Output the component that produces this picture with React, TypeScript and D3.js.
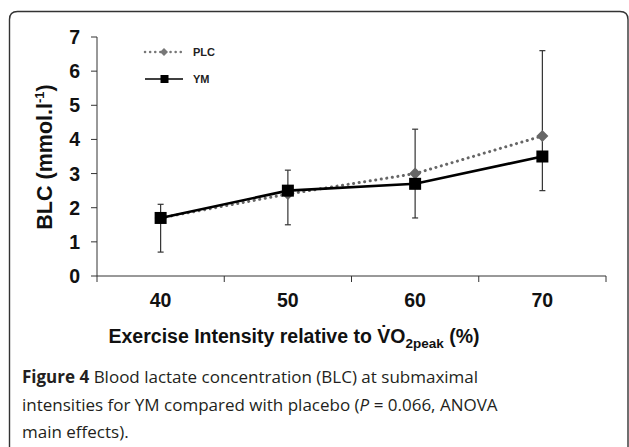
import React from "react";
import * as d3 from "d3";

const categories = ["40", "50", "60", "70"];
const plcValues = [1.7, 2.4, 3.0, 4.1];
const ymValues = [1.7, 2.5, 2.7, 3.5];
const errUpper = [2.1, 3.1, 4.3, 6.6];
const errLower = [0.7, 1.5, 1.7, 2.5];
const yTicks = [0, 1, 2, 3, 4, 5, 6, 7];
const captionLines = [
  "Blood lactate concentration (BLC) at submaximal",
  "intensities for YM compared with placebo (",
  "main effects).",
];

export default function App() {
  const W = 629;
  const H = 447;
  const x = d3.scaleBand<string>().domain(categories).range([97, 606]);
  const y = d3.scaleLinear().domain([0, 7]).range([276, 37]);
  const cx = (c: string) => (x(c) as number) + x.bandwidth() / 2;
  const line = d3
    .line<number>()
    .x((_, i) => cx(categories[i]))
    .y((d) => y(d));
  const boundaries = [...categories.map((c) => x(c) as number), 606];
  const axisFont = "Liberation Sans, Arial, sans-serif";
  const capFont = "'Open Sans', sans-serif";

  return (
    <svg
      width={W}
      height={H}
      style={{ position: "absolute", left: 0, top: 0, background: "#fff" }}
    >
      <path
        d="M9.5,460 L9.5,19.5 Q9.5,11.5 17.5,11.5 L620,11.5 Q628,11.5 628,19.5 L628,460"
        fill="none"
        stroke="#333"
        strokeWidth={1.4}
      />
      {/* axes */}
      <line x1={97} x2={97} y1={y(7)} y2={y(0)} stroke="#333" strokeWidth={1} />
      <line x1={97} x2={606} y1={y(0)} y2={y(0)} stroke="#333" strokeWidth={1} />
      {yTicks.map((t) => (
        <g key={t}>
          <line x1={91} x2={97} y1={y(t)} y2={y(t)} stroke="#333" />
          <text
            x={80}
            y={y(t)}
            dy="0.36em"
            textAnchor="end"
            fontFamily={axisFont}
            fontWeight="bold"
            fontSize={19.5}
            fill="#111"
          >
            {t}
          </text>
        </g>
      ))}
      {boundaries.map((b, i) => (
        <line key={i} x1={b} x2={b} y1={y(0)} y2={y(0) + 6} stroke="#333" />
      ))}
      {categories.map((c) => (
        <text
          key={c}
          x={cx(c)}
          y={307}
          textAnchor="middle"
          fontFamily={axisFont}
          fontWeight="bold"
          fontSize={19.5}
          fill="#111"
        >
          {c}
        </text>
      ))}
      {/* y title */}
      <text
        transform={`translate(52,157) rotate(-90)`}
        textAnchor="middle"
        fontFamily={axisFont}
        fontWeight="bold"
        fontSize={21.5}
        fill="#111"
      >
        BLC (mmol.l
        <tspan fontSize={13} dy={-8}>
          -1
        </tspan>
        <tspan dy={8}>)</tspan>
      </text>
      {/* x title */}
      <text
        x={294}
        y={343}
        textAnchor="middle"
        fontFamily={axisFont}
        fontWeight="bold"
        fontSize={19.5}
        fill="#111"
      >
        Exercise Intensity relative to V̇O
        <tspan fontSize={13.5} dy={5}>
          2peak
        </tspan>
        <tspan dy={-5}> (%)</tspan>
      </text>
      {/* error bars */}
      {categories.map((c, i) => (
        <g key={c} stroke="#333" strokeWidth={1.2}>
          <line x1={cx(c)} x2={cx(c)} y1={y(errUpper[i])} y2={y(errLower[i])} />
          <line x1={cx(c) - 3} x2={cx(c) + 3} y1={y(errUpper[i])} y2={y(errUpper[i])} />
          <line x1={cx(c) - 3} x2={cx(c) + 3} y1={y(errLower[i])} y2={y(errLower[i])} />
        </g>
      ))}
      {/* PLC */}
      <path
        d={line(plcValues) as string}
        fill="none"
        stroke="#666"
        strokeWidth={3}
        strokeDasharray="0.1 5.5"
        strokeLinecap="round"
      />
      {plcValues.map((v, i) => {
        const px = cx(categories[i]);
        const py = y(v);
        return (
          <path
            key={i}
            d={`M${px},${py - 6} L${px + 6},${py} L${px},${py + 6} L${px - 6},${py} Z`}
            fill="#666"
          />
        );
      })}
      {/* YM */}
      <path d={line(ymValues) as string} fill="none" stroke="#000" strokeWidth={2.6} />
      {ymValues.map((v, i) => {
        const px = cx(categories[i]);
        const py = y(v);
        return <rect key={i} x={px - 6} y={py - 6} width={12} height={12} fill="#000" />;
      })}
      {/* legend */}
      <line
        x1={145}
        x2={181}
        y1={52}
        y2={52}
        stroke="#777"
        strokeWidth={2.5}
        strokeDasharray="0.1 5"
        strokeLinecap="round"
      />
      <path d="M164,48 L168,52 L164,56 L160,52 Z" fill="#777" />
      <text x={193} y={52} dy="0.36em" fontFamily={axisFont} fontWeight="bold" fontSize={11} fill="#222">
        PLC
      </text>
      <line x1={145} x2={183} y1={79} y2={79} stroke="#000" strokeWidth={1.5} />
      <rect x={160.5} y={75} width={8} height={8} fill="#000" />
      <text x={193} y={79} dy="0.36em" fontFamily={axisFont} fontWeight="bold" fontSize={11} fill="#222">
        YM
      </text>
      {/* caption */}
      <text x={22} y={383} fontFamily={capFont} fontSize={17} fill="#231f20">
        <tspan fontWeight="bold">Figure 4</tspan> {captionLines[0]}
      </text>
      <text x={22} y={411} fontFamily={capFont} fontSize={17} fill="#231f20">
        {captionLines[1]}
        <tspan fontStyle="italic">P</tspan> = 0.066, ANOVA
      </text>
      <text x={22} y={438} fontFamily={capFont} fontSize={17} fill="#231f20">
        {captionLines[2]}
      </text>
    </svg>
  );
}
